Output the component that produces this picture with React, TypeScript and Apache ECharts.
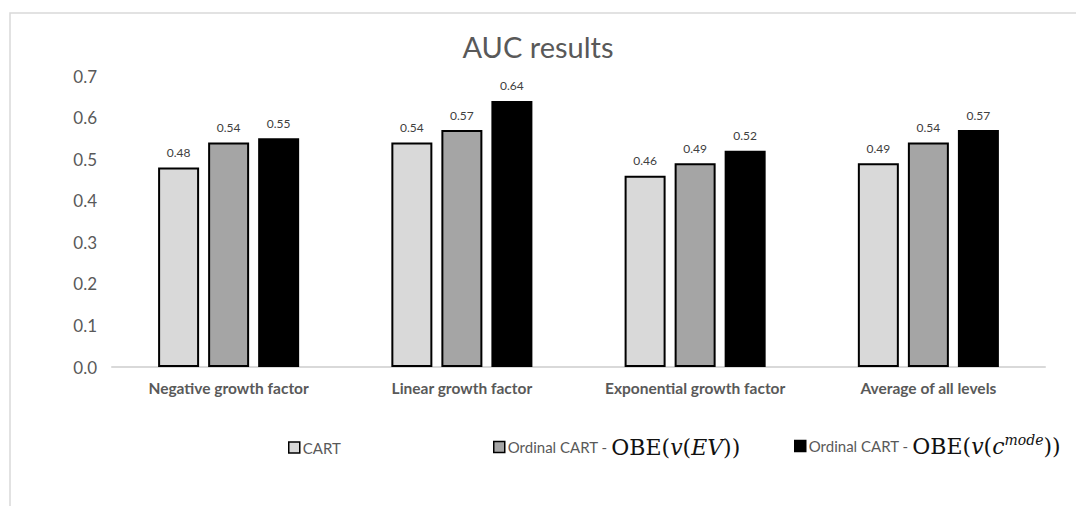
import React, { useEffect, useRef } from "react";
import * as echarts from "echarts";

const categories = [
  "Negative growth factor",
  "Linear growth factor",
  "Exponential growth factor",
  "Average of all levels",
];
const seriesNames = ["CART", "Ordinal CART EV", "Ordinal CART mode"];
const cartValues = [0.48, 0.54, 0.46, 0.49];
const ordinalEvValues = [0.54, 0.57, 0.49, 0.54];
const ordinalModeValues = [0.55, 0.64, 0.52, 0.57];
const yTicks = [0, 0.1, 0.2, 0.3, 0.4, 0.5, 0.6, 0.7];

const FONT = "Lato";
const TEXT = "#595959";
const MATH = "DejaVu Serif";

// Rich-text styles for the legend entries, including the math notation.
const legendRich = {
  a: { fontFamily: FONT, fontSize: 15, color: TEXT, lineHeight: 26 },
  m: { fontFamily: MATH, fontSize: 22, color: "#111", lineHeight: 26 },
  i: { fontFamily: MATH, fontSize: 22, fontStyle: "italic", color: "#111", lineHeight: 26 },
  sup: {
    fontFamily: MATH,
    fontSize: 14,
    fontStyle: "italic",
    color: "#111",
    verticalAlign: "top",
    lineHeight: 14,
  },
};

export default function App() {
  const ref = useRef<HTMLDivElement>(null);

  useEffect(() => {
    if (!ref.current) return;
    const chart = echarts.init(ref.current, undefined, { renderer: "svg" });

    const colors = ["#d9d9d9", "#a5a5a5", "#000000"];
    const dataSets = [cartValues, ordinalEvValues, ordinalModeValues];

    const legendLefts = [283, 488, 789];
    const legendTops = [435, 431, 428];
    const legendLabels = [
      "{a|CART}",
      "{a|Ordinal CART - }{m|OBE(}{i|v}{m|(}{i|EV}{m|))}",
      "{a|Ordinal CART - }{m|OBE(}{i|v}{m|(}{i|c}{sup|mode}{m|))}",
    ];

    chart.setOption({
      animation: false,
      backgroundColor: "#ffffff",
      title: {
        text: "AUC results",
        left: "center",
        top: 27,
        textStyle: { fontFamily: FONT, fontSize: 29, fontWeight: "normal", color: TEXT },
      },
      graphic: [
        {
          type: "rect",
          shape: { x: 10, y: 13, width: 1200, height: 600 },
          style: { fill: "none", stroke: "#d9d9d9", lineWidth: 1.5 },
          silent: true,
        },
      ],
      legend: seriesNames.map((name, i) => ({
        data: [name],
        left: legendLefts[i],
        top: legendTops[i],
        itemWidth: 11,
        itemHeight: 11,
        itemGap: 4,
        icon: "rect",
        itemStyle: { borderColor: "#000", borderWidth: 1.5 },
        formatter: () => legendLabels[i],
        textStyle: {
          fontFamily: FONT,
          fontSize: 15,
          color: TEXT,
          padding: [0, 0, 0, -2],
          rich: legendRich,
        },
      })),
      grid: { left: 112, right: 31, top: 76, bottom: 139, containLabel: false },
      xAxis: {
        type: "category",
        data: categories,
        axisLine: { lineStyle: { color: "#d9d9d9", width: 2 } },
        axisTick: { show: false },
        axisLabel: {
          interval: 0,
          hideOverlap: false,
          fontFamily: FONT,
          fontSize: 15.5,
          fontWeight: "bold",
          color: TEXT,
          margin: 13,
        },
      },
      yAxis: {
        type: "value",
        min: yTicks[0],
        max: yTicks[yTicks.length - 1],
        interval: 0.1,
        splitLine: { show: false },
        axisLine: { show: false },
        axisTick: { show: false },
        axisLabel: {
          fontFamily: FONT,
          fontSize: 17,
          color: TEXT,
          margin: 15,
          formatter: (v: number) => v.toFixed(1),
        },
      },
      series: seriesNames.map((name, i) => ({
        name,
        type: "bar",
        data: dataSets[i],
        barWidth: 41,
        barGap: "22%",
        itemStyle: { color: colors[i], borderColor: "#000", borderWidth: 2 },
        label: {
          show: true,
          position: "top",
          distance: 9,
          fontFamily: FONT,
          fontSize: 12,
          color: "#404040",
          formatter: (p: any) => p.value.toFixed(2),
        },
      })),
    });

    return () => chart.dispose();
  }, []);

  return (
    <div
      ref={ref}
      style={{ position: "fixed", left: 0, top: 0, width: 1076, height: 506 }}
    />
  );
}
